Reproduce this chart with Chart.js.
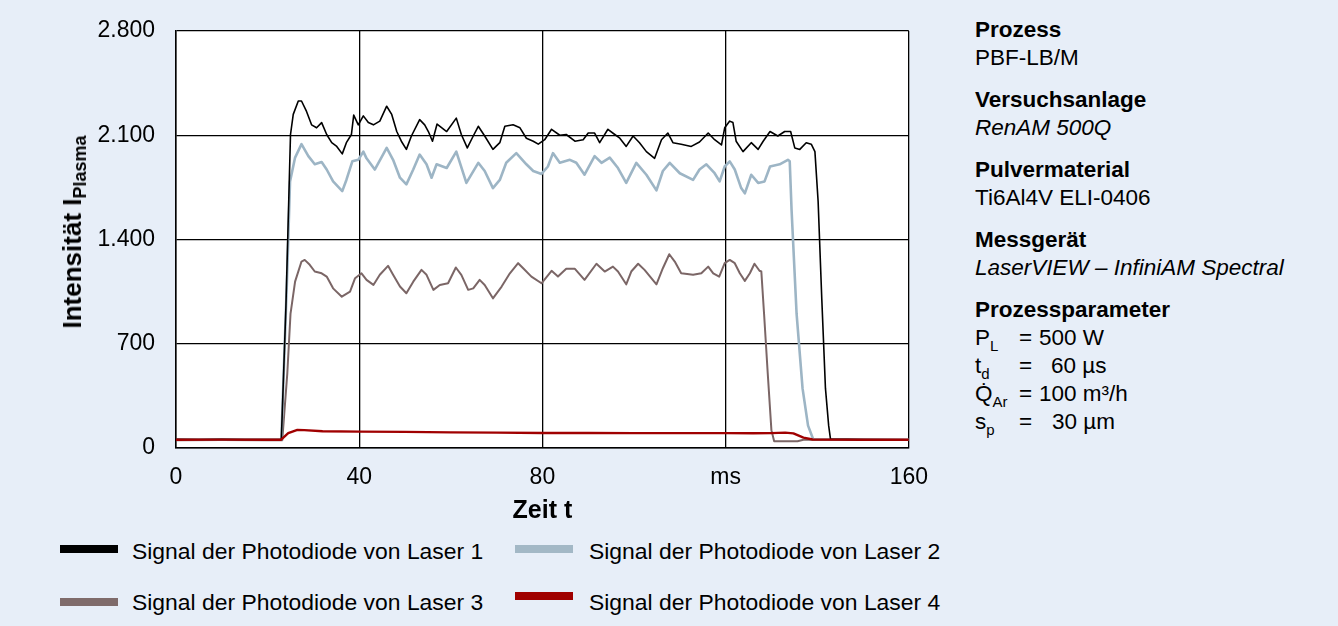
<!DOCTYPE html>
<html>
<head>
<meta charset="utf-8">
<script src="https://cdn.jsdelivr.net/npm/chart.js@4.4.1/dist/chart.umd.min.js"></script>
<style>
	html, body {
		margin: 0;
		padding: 0;
		background: #e7eef8;
		font-family: 'Liberation Sans', Arial, sans-serif;
		color: #000;
	}
	#wrap {
		position: relative;
		width: 1338px;
		height: 626px;
		overflow: hidden;
	}
	#chart {
		position: absolute;
		left: 0;
		top: 0;
	}
	#ytitle {
		position: absolute;
		left: 74px;
		top: 232px;
		transform: translate(-50%, -50%) rotate(-90deg);
		font-weight: bold;
		font-size: 26px;
		white-space: nowrap;
	}
	#ytitle sub {
		font-size: 18px;
		vertical-align: -5px;
	}
	#info {
		position: absolute;
		left: 975px;
		top: 16px;
		font-size: 22.5px;
		line-height: 28px;
	}
	#info .grp { margin-bottom: 14px; }
	#info b { display: block; }
	#info i { display: block; }
	#info .row { position: relative; height: 28px; white-space: nowrap; }
	#info .row .sym { position: absolute; left: 0; }
	#info .row .eq { position: absolute; left: 44px; }
	#info .row .val { position: absolute; }
	#info sub { font-size: 15px; vertical-align: -6px; line-height: 0; }
	.leg {
		position: absolute;
		font-size: 22.9px;
		white-space: nowrap;
		line-height: 28px;
	}
	.sw {
		position: absolute;
		width: 58px;
		height: 8px;
	}
</style>
</head>
<body>
<div id="wrap">
	<canvas id="chart" width="944" height="532"></canvas>
	<div id="ytitle">Intensität I<sub>Plasma</sub></div>

	<div id="info">
		<div class="grp"><b>Prozess</b><span>PBF-LB/M</span></div>
		<div class="grp"><b>Versuchsanlage</b><i>RenAM 500Q</i></div>
		<div class="grp"><b>Pulvermaterial</b><span>Ti6Al4V ELI-0406</span></div>
		<div class="grp"><b>Messgerät</b><i>LaserVIEW – InfiniAM Spectral</i></div>
		<div class="grp">
			<b>Prozessparameter</b>
			<div class="row"><span class="sym">P<sub>L</sub></span><span class="eq">=</span><span class="val" style="left:64px">500 W</span></div>
			<div class="row"><span class="sym">t<sub>d</sub></span><span class="eq">=</span><span class="val" style="left:76px">60 µs</span></div>
			<div class="row"><span class="sym">Q̇<sub>Ar</sub></span><span class="eq">=</span><span class="val" style="left:64px">100 m³/h</span></div>
			<div class="row"><span class="sym">s<sub>p</sub></span><span class="eq">=</span><span class="val" style="left:77px">30 µm</span></div>
		</div>
	</div>

	<div class="sw" style="left:60px; top:545px; background:#000000"></div>
	<div class="leg" style="left:132px; top:537px">Signal der Photodiode von Laser 1</div>
	<div class="sw" style="left:515px; top:545px; background:#a3b8c6"></div>
	<div class="leg" style="left:589px; top:537px">Signal der Photodiode von Laser 2</div>
	<div class="sw" style="left:60px; top:598px; background:#7f6b6b"></div>
	<div class="leg" style="left:132px; top:588px">Signal der Photodiode von Laser 3</div>
	<div class="sw" style="left:515px; top:592px; background:#a00000"></div>
	<div class="leg" style="left:589px; top:588px">Signal der Photodiode von Laser 4</div>
</div>

<script>
// Zeit in ms, Intensität in a.u.
const xTicks = [0, 40, 80, 120, 160];
const xTickLabels = ['0', '40', '80', 'ms', '160'];
const yTicks = [0, 700, 1400, 2100, 2800];

const t1 = [0, 5, 10, 15, 20, 23.0, 24.0, 25.0, 25.6, 26.7, 27.4, 28.5, 29.6, 30.7, 31.8, 32.9, 34.0, 35.1, 36.3, 37.2, 38.3, 38.8, 39.8, 40.9, 42.0, 43.1, 44.5, 46.0, 47.1, 48.2, 49.2, 50.3, 51.4, 53.2, 54.3, 55.1, 56.0, 57.0, 59.1, 61.2, 62.3, 63.6, 64.9, 66.0, 67.4, 69.2, 70.7, 71.8, 73.6, 75.1, 76.5, 78.0, 79.1, 80.5, 82.0, 83.8, 85.2, 87.1, 88.9, 90.0, 91.4, 92.5, 94.3, 95.8, 96.9, 98.3, 99.8, 101.2, 102.7, 104.5, 106.0, 107.4, 108.5, 110.3, 112.5, 114.3, 116.2, 117.6, 119.1, 119.8, 120.9, 121.6, 122.3, 123.8, 125.6, 127.1, 128.2, 129.7, 131.4, 132.9, 134.2, 135.1, 136.2, 137.6, 138.7, 139.5, 140.2, 141.0, 141.8, 142.5, 142.9, 150, 160];
const v1 = [58, 57, 58, 56, 57, 58, 950, 2105, 2240, 2330, 2330, 2260, 2170, 2150, 2185, 2105, 2050, 2025, 1975, 2050, 2105, 2235, 2170, 2230, 2185, 2170, 2195, 2295, 2240, 2125, 2060, 2005, 2095, 2205, 2170, 2125, 2060, 2175, 2125, 2215, 2105, 2015, 2095, 2160, 2095, 2005, 2050, 2160, 2170, 2150, 2080, 2060, 2040, 2070, 2140, 2100, 2105, 2060, 2070, 2115, 2115, 2050, 2140, 2105, 2080, 2025, 2095, 2050, 1990, 1945, 2070, 2115, 2050, 2040, 2025, 2055, 2115, 2070, 2035, 2150, 2195, 2185, 2060, 1990, 2050, 2005, 2060, 2125, 2095, 2125, 2125, 2015, 2005, 2050, 2040, 1990, 1655, 1000, 400, 150, 60, 56, 55];

const t2 = [0, 10, 20, 23.0, 24.2, 24.9, 26.0, 27.4, 28.9, 30.3, 31.8, 32.9, 34.3, 36.3, 37.2, 38.5, 39.8, 40.9, 41.6, 43.4, 46.0, 47.4, 48.9, 50.3, 51.8, 53.2, 54.7, 55.8, 56.9, 59.1, 61.2, 63.4, 66.0, 67.4, 69.2, 70.7, 72.1, 74.3, 76.5, 78.0, 79.8, 81.2, 82.3, 83.8, 86.0, 87.4, 89.2, 91.4, 92.9, 94.7, 96.5, 98.3, 100.5, 102.7, 104.9, 106.3, 107.8, 110.0, 112.9, 114.3, 115.8, 117.6, 118.7, 119.8, 120.9, 122.0, 123.4, 124.2, 125.6, 127.1, 128.5, 129.7, 131.8, 133.6, 134.0, 134.4, 135.5, 136.8, 138.0, 139.1, 145, 160];
const v2 = [55, 56, 55, 55, 1100, 1790, 1950, 2040, 1960, 1905, 1920, 1870, 1790, 1725, 1800, 1925, 1935, 1990, 1945, 1870, 2015, 1935, 1815, 1770, 1870, 1970, 1905, 1815, 1905, 1880, 1990, 1780, 1915, 1860, 1745, 1800, 1915, 1980, 1905, 1860, 1840, 1890, 1980, 1915, 1935, 1915, 1835, 1960, 1915, 1950, 1880, 1780, 1915, 1835, 1730, 1860, 1915, 1845, 1800, 1870, 1905, 1845, 1790, 1890, 1925, 1870, 1745, 1710, 1835, 1780, 1790, 1890, 1905, 1935, 1925, 1600, 900, 400, 150, 60, 56, 55];

const t3 = [0, 10, 20, 23.2, 24.3, 25.0, 26.0, 27.4, 28.1, 29.2, 30.3, 31.8, 32.9, 34.3, 36.2, 38.0, 39.1, 40.5, 41.6, 43.1, 44.5, 46.3, 47.4, 48.9, 50.3, 51.8, 53.6, 54.7, 56.2, 57.6, 59.4, 61.1, 62.3, 63.8, 64.9, 66.3, 67.4, 69.2, 71.1, 72.9, 74.7, 75.8, 77.6, 79.8, 82.0, 83.4, 85.2, 87.1, 89.2, 91.8, 93.6, 95.4, 96.5, 98.3, 99.4, 100.9, 102.3, 104.9, 106.3, 107.7, 108.9, 110.3, 112.9, 114.7, 116.2, 117.3, 118.6, 119.8, 120.9, 122.0, 123.1, 124.2, 125.3, 126.3, 127.4, 127.8, 128.4, 129.2, 130.0, 130.6, 135.7, 137.0, 160];
const v3 = [52, 53, 52, 52, 500, 900, 1117, 1252, 1263, 1230, 1185, 1173, 1151, 1072, 1016, 1050, 1140, 1173, 1129, 1095, 1163, 1223, 1163, 1084, 1039, 1117, 1196, 1163, 1062, 1095, 1106, 1212, 1163, 1062, 1072, 1129, 1095, 1005, 1084, 1173, 1241, 1207, 1151, 1106, 1190, 1151, 1203, 1203, 1129, 1237, 1185, 1218, 1185, 1099, 1185, 1237, 1196, 1099, 1207, 1301, 1252, 1173, 1163, 1173, 1218, 1173, 1151, 1241, 1263, 1241, 1173, 1122, 1173, 1237, 1190, 1185, 900, 500, 120, 45, 45, 55, 55];

const t4 = [0, 10, 20, 22.9, 24.5, 26.5, 28, 32, 40, 50, 60, 70, 80, 90, 100, 110, 120, 126, 130, 133, 134.8, 137, 139, 150, 160];
const v4 = [55, 56, 55, 55, 100, 122, 120, 112, 110, 108, 105, 103, 101, 101, 100, 100, 100, 99, 100, 103, 98, 70, 57, 55, 55];

const toPoints = (t, v) => t.map((x, i) => ({ x: x, y: v[i] }));
const deNum = (n) => String(n).replace(/\B(?=(\d{3})+(?!\d))/g, '.');

const plotBg = {
	id: 'plotBg',
	beforeDraw(chart) {
		const a = chart.chartArea;
		const ctx = chart.ctx;
		ctx.save();
		ctx.fillStyle = '#ffffff';
		ctx.fillRect(a.left, a.top, a.right - a.left, a.bottom - a.top);
		ctx.restore();
	},
};

const font = "'Liberation Sans', Arial, sans-serif";

new Chart(document.getElementById('chart'), {
	type: 'line',
	data: {
		datasets: [
			{ label: 'Laser 1', data: toPoints(t1, v1), borderColor: '#000000', borderWidth: 1.6, order: 2 },
			{ label: 'Laser 2', data: toPoints(t2, v2), borderColor: '#9db5c5', borderWidth: 2.6, order: 3 },
			{ label: 'Laser 3', data: toPoints(t3, v3), borderColor: '#7b6666', borderWidth: 2, order: 4 },
			{ label: 'Laser 4', data: toPoints(t4, v4), borderColor: '#a00000', borderWidth: 2.4, order: 1 },
		],
	},
	options: {
		responsive: false,
		animation: false,
		elements: {
			point: { radius: 0 },
			line: { tension: 0, borderJoinStyle: 'round' },
		},
		layout: {
			padding: { top: 31, right: 31, left: 0, bottom: 0 },
		},
		plugins: {
			legend: { display: false },
			tooltip: { enabled: false },
		},
		scales: {
			x: {
				type: 'linear',
				min: 0,
				max: 160,
				afterFit(scale) {
					scale.height = 84;
				},
				afterBuildTicks(scale) {
					scale.ticks = xTicks.map((v) => ({ value: v }));
				},
				ticks: {
					color: '#000',
					font: { family: font, size: 23 },
					padding: 16,
					maxRotation: 0,
					callback: (v) => xTickLabels[xTicks.indexOf(v)],
				},
				grid: { color: '#000', lineWidth: 1.3, drawTicks: false },
				border: { color: '#000', width: 1.5 },
				title: {
					display: true,
					text: 'Zeit t',
					color: '#000',
					font: { family: font, size: 25, weight: 'bold' },
					padding: { top: 0, bottom: 6 },
				},
			},
			y: {
				min: 0,
				max: 2800,
				afterFit(scale) {
					scale.width = 176;
					scale.paddingTop = 0;
					scale.paddingBottom = 0;
				},
				afterBuildTicks(scale) {
					scale.ticks = yTicks.map((v) => ({ value: v }));
				},
				ticks: {
					color: '#000',
					font: { family: font, size: 23 },
					padding: 21,
					callback: (v) => deNum(v),
				},
				grid: { color: '#000', lineWidth: 1.3, drawTicks: false },
				border: { color: '#000', width: 1.5 },
			},
		},
	},
	plugins: [plotBg],
});
</script>
</body>
</html>
